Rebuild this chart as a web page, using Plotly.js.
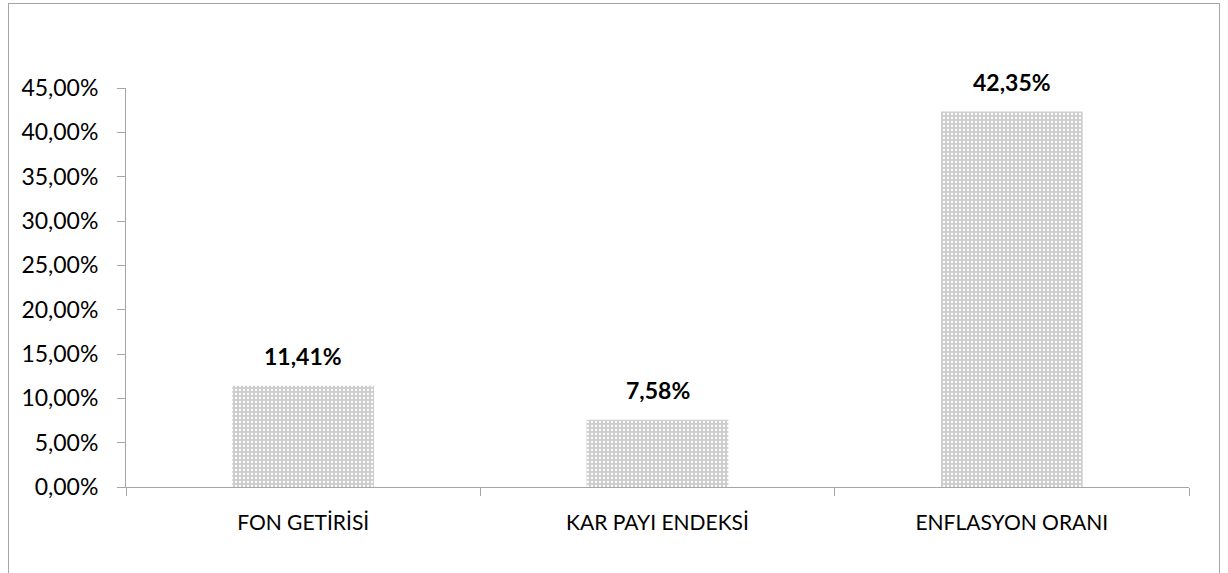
<!DOCTYPE html>
<html><head><meta charset="utf-8">
<script src="https://cdn.plot.ly/plotly-3.0.1.min.js"></script>
<style>
html,body{margin:0;padding:0;background:#fff;}
#wrap{position:relative;width:1228px;height:573px;overflow:hidden;}
#chart{width:1228px;height:573px;}
#frame{position:absolute;left:8px;top:3px;width:1210px;height:620px;border:1px solid #a6a6a6;pointer-events:none;}
</style></head>
<body>
<div id="wrap"><div id="chart"></div><div id="frame"></div></div>
<script>
const categories = ["FON GETİRİSİ", "KAR PAYI ENDEKSİ", "ENFLASYON ORANI"];
const values = [0.1141, 0.0758, 0.4235];
const labels = ["11,41%", "7,58%", "42,35%"];
const yTicks = [0, 0.05, 0.10, 0.15, 0.20, 0.25, 0.30, 0.35, 0.40, 0.45];

const font = "Lato, 'Open Sans', sans-serif";
const annotations = categories.map((c, i) => ({
  x: c, y: values[i], xref: 'x', yref: 'y',
  text: '<b>' + labels[i] + '</b>', showarrow: false,
  yanchor: 'bottom', yshift: 14,
  font: {family: font, size: 23, color: '#000'}
}));

Plotly.newPlot('chart', [{
  type: 'bar',
  x: categories,
  y: values,
  marker: {
    color: '#d0d0d0',
    line: {width: 0},
    pattern: {shape: '.', bgcolor: '#cdcdcd', fgcolor: '#ffffff', size: 4, solidity: 0.25}
  },
  hoverinfo: 'skip'
}], {
  width: 1228, height: 573,
  margin: {l: 126, r: 39, t: 88, b: 86},
  paper_bgcolor: '#fff', plot_bgcolor: '#fff',
  separators: ',.',
  bargap: 0.6,
  showlegend: false,
  annotations: annotations,
  font: {family: font, size: 21, color: '#000'},
  xaxis: {
    type: 'category',
    showline: true, linecolor: '#a6a6a6', linewidth: 1,
    ticks: 'outside', tickson: 'boundaries', ticklen: 8, tickcolor: '#a6a6a6',
    showgrid: false, tickfont: {family: font, size: 21, color: '#000'},
    ticklabelstandoff: 17
  },
  yaxis: {
    range: [0, 0.45],
    tickvals: yTicks, tickformat: '.2%',
    showline: true, linecolor: '#a6a6a6', linewidth: 1,
    ticks: 'outside', ticklen: 8, tickcolor: '#a6a6a6',
    showgrid: false, zeroline: false,
    tickfont: {family: font, size: 23, color: '#000'},
    ticklabelstandoff: 14
  }
}, {staticPlot: true});
</script>
</body></html>
